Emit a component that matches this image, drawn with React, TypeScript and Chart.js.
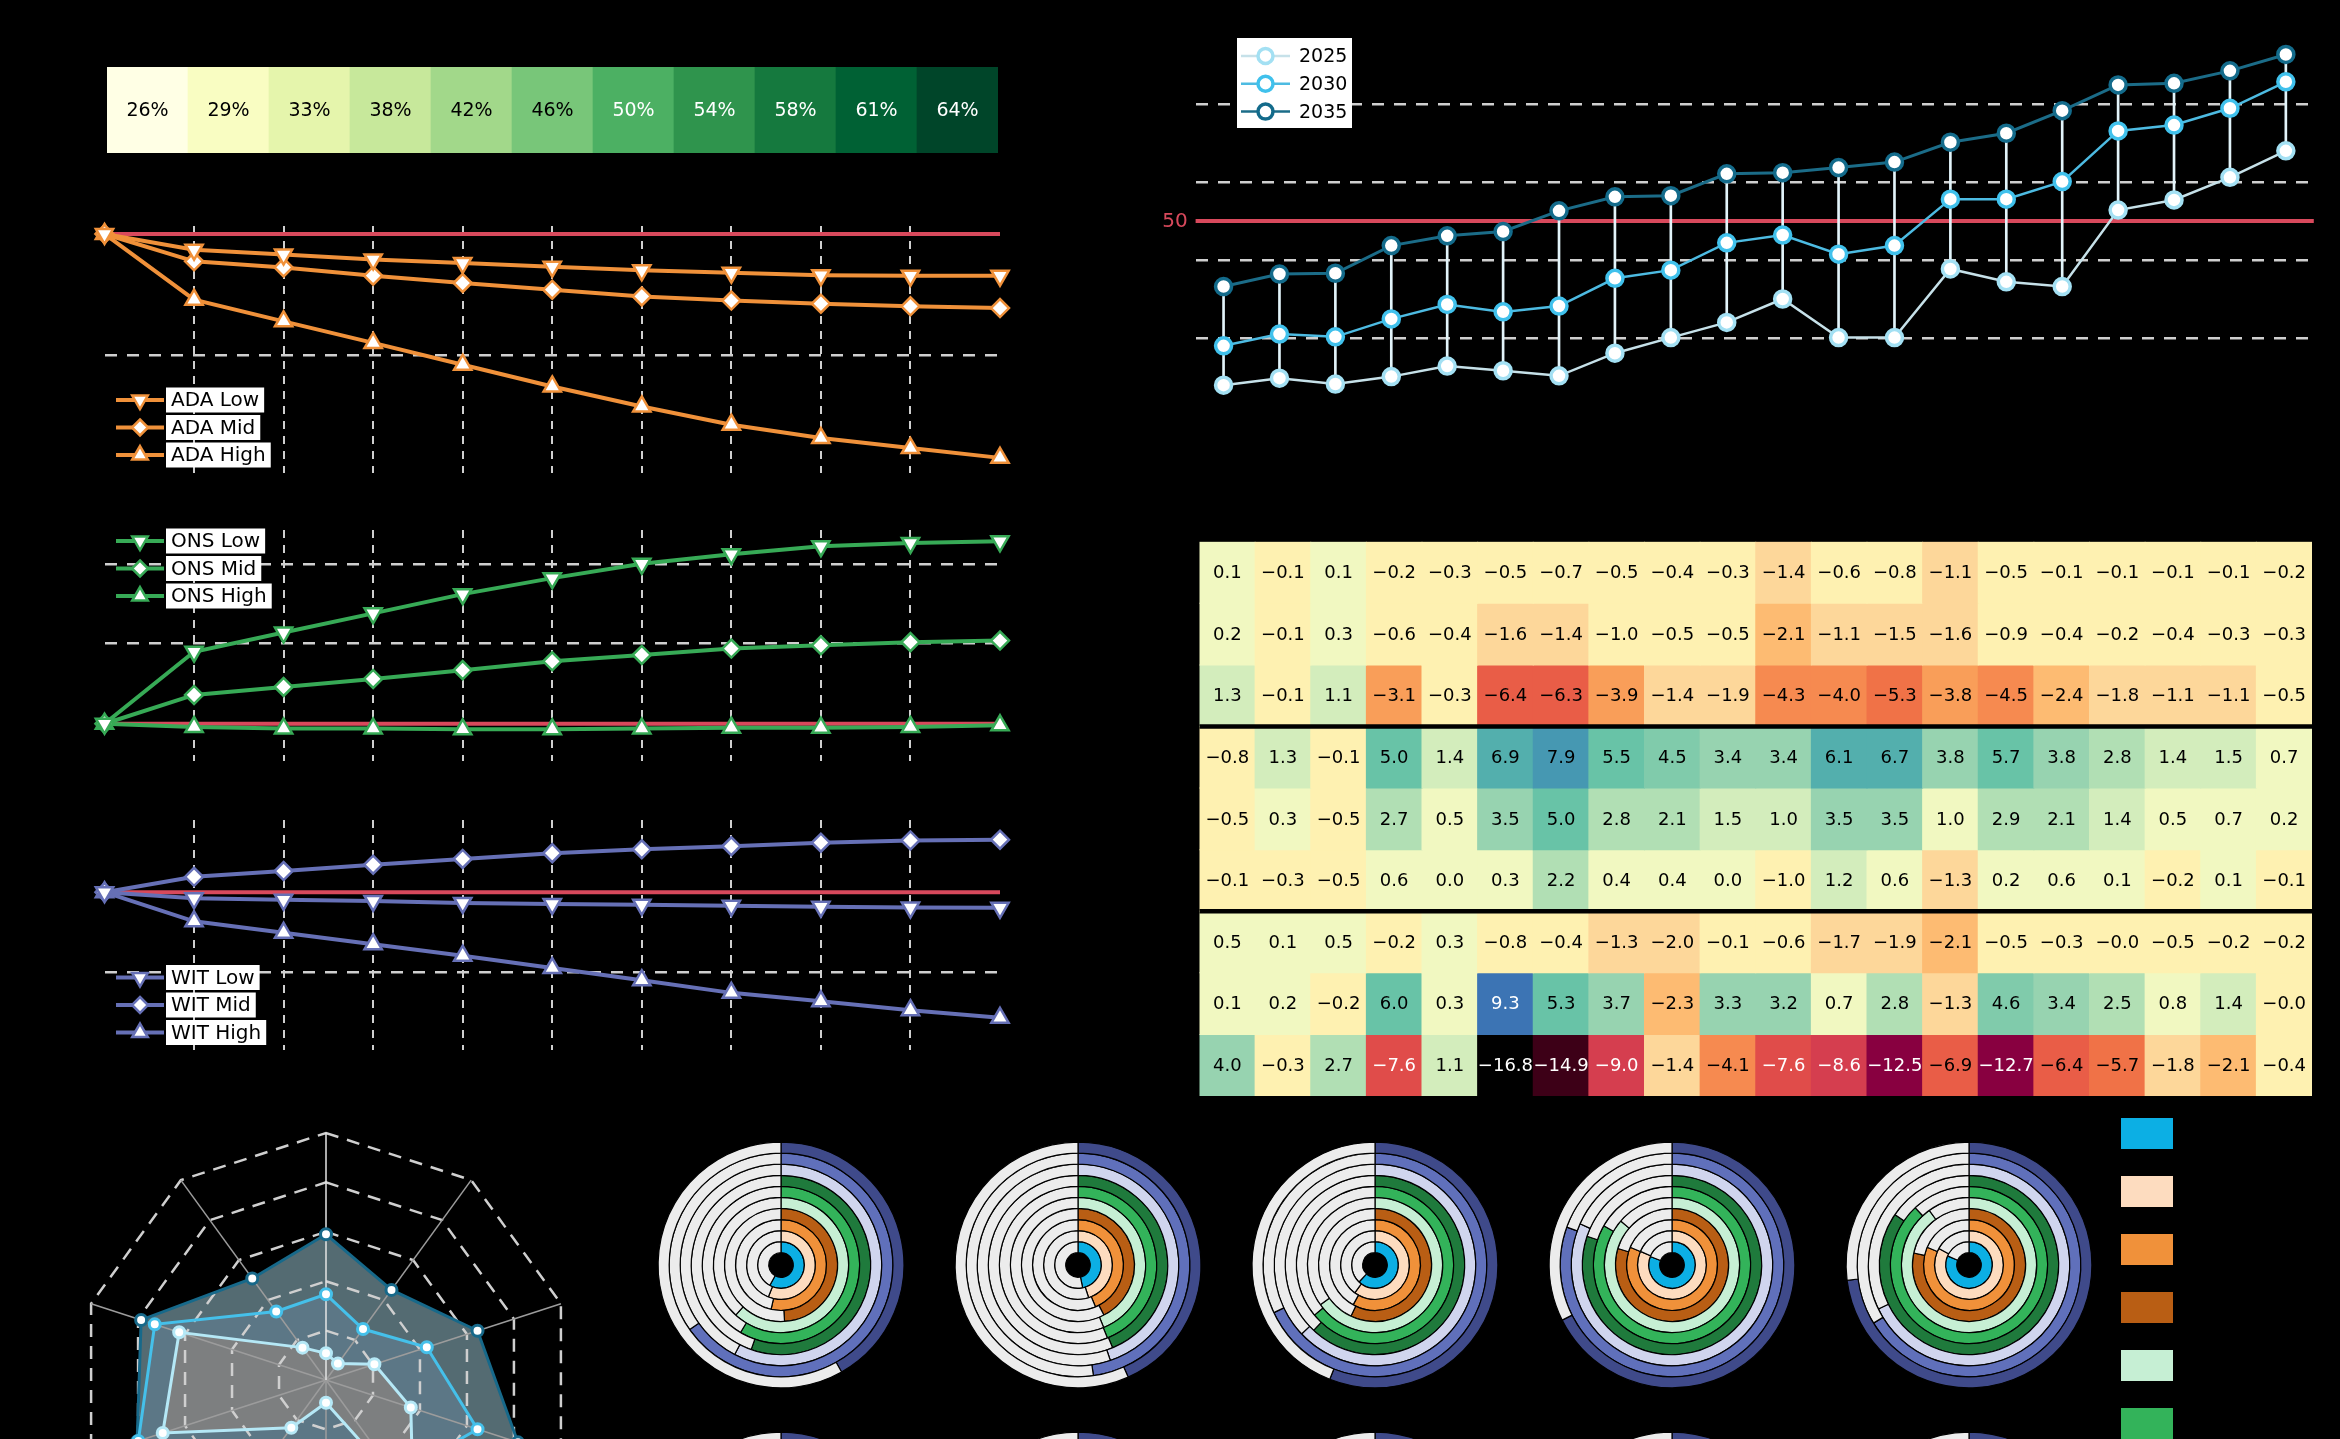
import React, { useEffect, useRef } from 'react';
import { Chart, registerables } from 'chart.js';

Chart.register(...registerables);

const FONT = "'DejaVu Sans', 'Liberation Sans', Arial, sans-serif";
Chart.defaults.font.family = FONT;

// ======================= DATA =======================
const SHARE_LABELS = ['26%', '29%', '33%', '38%', '42%', '46%', '50%', '54%', '58%', '61%', '64%'];
const SHARE_VALUES = [26, 29, 33, 38, 42, 46, 50, 54, 58, 61, 64];

const STEP_LABELS = ['0', '1', '2', '3', '4', '5', '6', '7', '8', '9', '10'];

const ADA_LOW = [0, -1.3, -1.7, -2.1, -2.4, -2.7, -3.0, -3.2, -3.4, -3.45, -3.45];
const ADA_MID = [0, -2.26, -2.76, -3.45, -4.05, -4.6, -5.16, -5.5, -5.76, -5.98, -6.12];
const ADA_HIGH = [0, -5.43, -7.22, -9.0, -10.8, -12.6, -14.25, -15.76, -16.86, -17.69, -18.5];

const ONS_LOW = [0, 4.5, 5.7, 6.9, 8.1, 9.1, 10.0, 10.6, 11.1, 11.3, 11.4];
const ONS_MID = [0, 1.8, 2.3, 2.8, 3.35, 3.9, 4.3, 4.7, 4.9, 5.1, 5.2];
const ONS_HIGH = [0, -0.2, -0.3, -0.3, -0.35, -0.35, -0.3, -0.25, -0.25, -0.2, -0.1];

const WIT_LOW = [0, -0.38, -0.48, -0.55, -0.67, -0.74, -0.79, -0.84, -0.91, -0.96, -0.98];
const WIT_MID = [0, 0.96, 1.32, 1.72, 2.08, 2.44, 2.68, 2.87, 3.09, 3.23, 3.28];
const WIT_HIGH = [0, -1.82, -2.54, -3.25, -3.97, -4.74, -5.5, -6.29, -6.82, -7.37, -7.85];

const REGIONS = ['R1', 'R2', 'R3', 'R4', 'R5', 'R6', 'R7', 'R8', 'R9', 'R10', 'R11', 'R12', 'R13', 'R14', 'R15', 'R16', 'R17', 'R18', 'R19', 'R20'];
const Y2025 = [7.9, 9.7, 8.2, 10.1, 12.8, 11.6, 10.3, 16.1, 20.1, 24.0, 30.0, 20.1, 20.1, 37.7, 34.4, 33.2, 52.8, 55.4, 61.2, 68.0];
const Y2030 = [18.0, 21.0, 20.3, 24.9, 28.6, 26.7, 28.2, 35.3, 37.4, 44.4, 46.4, 41.5, 43.7, 55.6, 55.6, 60.1, 73.1, 74.6, 78.9, 85.7];
const Y2035 = [33.2, 36.4, 36.6, 43.7, 46.2, 47.3, 52.6, 56.2, 56.5, 62.1, 62.4, 63.7, 65.1, 70.2, 72.5, 78.3, 84.9, 85.3, 88.5, 92.7];
const REF_VALUE = 50;
const TOP_GRID = [20, 40, 60, 80];

const HEAT_ROW_LABELS = ['ADA Low', 'ADA Mid', 'ADA High', 'ONS Low', 'ONS Mid', 'ONS High', 'WIT Low', 'WIT Mid', 'WIT High'];
const HEAT_R1 = [0.1, -0.1, 0.1, -0.2, -0.3, -0.5, -0.7, -0.5, -0.4, -0.3, -1.4, -0.6, -0.8, -1.1, -0.5, -0.1, -0.1, -0.1, -0.1, -0.2];
const HEAT_R2 = [0.2, -0.1, 0.3, -0.6, -0.4, -1.6, -1.4, -0.96, -0.5, -0.5, -2.1, -1.1, -1.5, -1.6, -0.9, -0.4, -0.2, -0.4, -0.3, -0.3];
const HEAT_R3 = [1.3, -0.1, 1.1, -3.1, -0.3, -6.4, -6.3, -3.9, -1.4, -1.9, -4.3, -4.04, -5.3, -3.8, -4.5, -2.4, -1.8, -1.1, -1.1, -0.5];
const HEAT_R4 = [-0.8, 1.3, -0.1, 5.04, 1.4, 6.9, 7.9, 5.5, 4.5, 3.4, 3.4, 6.1, 6.7, 3.8, 5.7, 3.8, 2.8, 1.4, 1.5, 0.7];
const HEAT_R5 = [-0.5, 0.3, -0.5, 2.7, 0.5, 3.5, 5.02, 2.8, 2.1, 1.5, 1.04, 3.5, 3.5, 0.96, 2.9, 2.1, 1.4, 0.5, 0.7, 0.2];
const HEAT_R6 = [-0.1, -0.3, -0.5, 0.6, 0.02, 0.3, 2.2, 0.4, 0.4, 0.02, -0.96, 1.2, 0.6, -1.3, 0.2, 0.6, 0.1, -0.2, 0.1, -0.1];
const HEAT_R7 = [0.5, 0.1, 0.5, -0.2, 0.3, -0.8, -0.4, -1.3, -1.96, -0.1, -0.6, -1.7, -1.9, -2.1, -0.5, -0.3, -0.02, -0.5, -0.2, -0.2];
const HEAT_R8 = [0.1, 0.2, -0.2, 5.97, 0.3, 9.3, 5.3, 3.7, -2.3, 3.3, 3.2, 0.7, 2.8, -1.3, 4.6, 3.4, 2.5, 0.8, 1.4, -0.02];
const HEAT_R9 = [3.97, -0.3, 2.7, -7.6, 1.1, -16.8, -14.9, -9.0, -1.4, -4.1, -7.6, -8.6, -12.5, -6.9, -12.7, -6.4, -5.7, -1.8, -2.1, -0.4];
const HEAT_ROWS = [HEAT_R1, HEAT_R2, HEAT_R3, HEAT_R4, HEAT_R5, HEAT_R6, HEAT_R7, HEAT_R8, HEAT_R9];
const HEAT_GROUP_BREAKS = [3, 6];

const RADAR_AXES = ['A1', 'A2', 'A3', 'A4', 'A5', 'A6', 'A7', 'A8', 'A9', 'A10'];
const RADAR_OUTER = [59, 45.1, 64.5, 81.7, 66, 58, 70, 80.4, 78.7, 50.8];
const RADAR_MIDDLE = [34.7, 25.5, 42.9, 64.5, 48, 35, 52, 79.9, 72.9, 34.3];
const RADAR_INNER = [10.8, 8.2, 20.6, 36.1, 60, 9.2, 23.9, 69.5, 62.5, 16.2];

// donut rings, listed inner -> outer
const DONUT_1 = [58, 56, 53.5, 49, 61.7, 58.6, 55.4, 57.6, 65.2, 41.8];
const DONUT_2 = [46.8, 45, 43.7, 42.4, 43.8, 43.9, 43.7, 44.8, 47.8, 43.3];
const DONUT_3 = [62, 60, 58, 57, 65, 64, 62, 63, 68, 56];
const DONUT_4 = [80.9, 81.5, 81.4, 79.7, 86.3, 83.3, 80.2, 81.7, 80.5, 67.6];
const DONUT_5 = [81.4, 83, 81.4, 78.4, 90, 88, 84.5, 67.8, 66.3, 73];
const DONUT_6 = [55, 52, 50, 47, 58, 55, 52, 54, 60, 45];
const DONUT_7 = [48, 46, 44, 43, 46, 45, 45, 46, 49, 44];
const DONUT_8 = [63, 61, 59, 57, 66, 64, 62, 63, 67, 57];
const DONUT_9 = [79, 80, 80, 78, 85, 82, 79, 80, 79, 66];
const DONUT_10 = [80, 82, 80, 77, 88, 86, 83, 68, 67, 71];
const DONUTS_ROW1 = [DONUT_1, DONUT_2, DONUT_3, DONUT_4, DONUT_5];
const DONUTS_ROW2 = [DONUT_6, DONUT_7, DONUT_8, DONUT_9, DONUT_10];

// ======================= STYLE =======================
const RED = '#d8495c';
const GRID = '#cfcfcf';
const ADA_COLOR = '#f0913a';
const ONS_COLOR = '#37aa56';
const WIT_COLOR = '#6670b6';
const YLGN = ['#ffffe5', '#f7fcb9', '#d9f0a3', '#addd8e', '#78c679', '#41ab5d', '#238443', '#006837', '#004529'];
const DONUT_COLORS = ['#0cafe4', '#fddcbf', '#f0913a', '#b95e14', '#c6efd4', '#33b35a', '#1f7a3c', '#d0d5ee', '#6070bb', '#3f4a8a'];
const DONUT_REST = '#ececec';
const HEAT_BINS: Record<number, string> = {
  [-17]: '#000000', [-16]: '#1c0009', [-15]: '#3d0017', [-14]: '#5f0027', [-13]: '#880040', [-12]: '#9e0142',
  [-11]: '#b0183f', [-10]: '#c42c48', [-9]: '#d53e4f', [-8]: '#e04c4a', [-7]: '#e95d47', [-6]: '#f07247',
  [-5]: '#f68a50', [-4]: '#f99e59', [-3]: '#fdbb72', [-2]: '#fdd79a', [-1]: '#fef1b1', 0: '#f1f8c1',
  1: '#d3edbc', 2: '#b1dfb4', 3: '#97d3b0', 4: '#80cbab', 5: '#68c3a7', 6: '#53afad', 7: '#4698b2',
  8: '#4186b4', 9: '#3c74b4',
};

function hexToRgb(h: string) {
  const n = parseInt(h.slice(1), 16);
  return [(n >> 16) & 255, (n >> 8) & 255, n & 255];
}
function interp(stops: string[], t: number) {
  const tt = Math.max(0, Math.min(1, t)) * (stops.length - 1);
  const i = Math.min(Math.floor(tt), stops.length - 2);
  const f = tt - i;
  const a = hexToRgb(stops[i]);
  const b = hexToRgb(stops[i + 1]);
  return `rgb(${a.map((v, k) => Math.round(v + (b[k] - v) * f)).join(',')})`;
}
function heatColor(v: number) {
  const k = Math.max(-17, Math.min(9, Math.floor(v)));
  return HEAT_BINS[k];
}
function lum(hex: string) {
  const [r, g, b] = hexToRgb(hex);
  return 0.299 * r + 0.587 * g + 0.114 * b;
}
function fmt(v: number) {
  return v.toFixed(1).replace('-', '\u2212');
}

function drawMarker(ctx: CanvasRenderingContext2D, kind: string, x: number, y: number, r: number, fill: string, stroke: string, lw: number) {
  ctx.save();
  ctx.beginPath();
  if (kind === 'circle') {
    ctx.arc(x, y, r, 0, Math.PI * 2);
  } else if (kind === 'diamond') {
    ctx.moveTo(x, y - r);
    ctx.lineTo(x + r, y);
    ctx.lineTo(x, y + r);
    ctx.lineTo(x - r, y);
    ctx.closePath();
  } else {
    const rot = kind === 'up' ? -Math.PI / 2 : Math.PI / 2;
    for (let k = 0; k < 3; k++) {
      const a = rot + (k * 2 * Math.PI) / 3;
      const px = x + r * Math.cos(a);
      const py = y + r * Math.sin(a);
      if (k === 0) ctx.moveTo(px, py);
      else ctx.lineTo(px, py);
    }
    ctx.closePath();
  }
  ctx.fillStyle = fill;
  ctx.fill();
  ctx.lineWidth = lw;
  ctx.strokeStyle = stroke;
  ctx.stroke();
  ctx.restore();
}

const BASE_OPTS = {
  animation: false,
  responsive: true,
  maintainAspectRatio: false,
  events: [],
};

// ======================= SHARE STRIP =======================
const shareLabelPlugin = {
  id: 'shareLabels',
  afterDatasetsDraw(chart: any) {
    const { ctx } = chart;
    const meta = chart.getDatasetMeta(0);
    ctx.save();
    ctx.font = `19px ${FONT}`;
    ctx.textAlign = 'center';
    ctx.textBaseline = 'middle';
    meta.data.forEach((bar: any, i: number) => {
      const t = i / (SHARE_VALUES.length - 1);
      ctx.fillStyle = t < 0.55 ? '#000' : '#fff';
      ctx.fillText(SHARE_LABELS[i], bar.x, (bar.y + bar.base) / 2 + 1);
    });
    ctx.restore();
  },
};
function shareConfig() {
  return {
    type: 'bar',
    data: {
      labels: SHARE_LABELS,
      datasets: [
        {
          data: SHARE_VALUES.map(() => [0, 1]),
          backgroundColor: SHARE_VALUES.map((_, i) => interp(YLGN, i / (SHARE_VALUES.length - 1))),
          borderWidth: 0,
          barPercentage: 1,
          categoryPercentage: 1,
        },
      ],
    },
    options: {
      ...BASE_OPTS,
      layout: { padding: { left: 17, right: 22, top: 17, bottom: 17 } },
      plugins: { legend: { display: false }, tooltip: { enabled: false } },
      scales: { x: { display: false }, y: { display: false, min: 0, max: 1 } },
    },
    plugins: [shareLabelPlugin],
  };
}

// ======================= LINE PANELS =======================
const panelPlugin = {
  id: 'panel',
  beforeDatasetsDraw(chart: any, _a: any, opts: any) {
    const { ctx, chartArea, scales } = chart;
    const y = scales.y.getPixelForValue(opts.refValue);
    ctx.save();
    ctx.strokeStyle = RED;
    ctx.lineWidth = 4;
    ctx.beginPath();
    ctx.moveTo(chartArea.left, y);
    ctx.lineTo(chartArea.right, y);
    ctx.stroke();
    ctx.restore();
  },
  afterDraw(chart: any, _a: any, opts: any) {
    const { ctx } = chart;
    chart.data.datasets.forEach((ds: any, i: number) => {
      const cy = opts.legendY + i * opts.legendStep;
      const x0 = opts.legendX;
      ctx.save();
      ctx.strokeStyle = ds.borderColor;
      ctx.lineWidth = 4;
      ctx.beginPath();
      ctx.moveTo(x0, cy);
      ctx.lineTo(x0 + 48, cy);
      ctx.stroke();
      drawMarker(ctx, ds.marker, x0 + 24, cy, ds.marker === 'diamond' ? 8 : 9, '#fff', ds.borderColor, 2.5);
      ctx.font = `20px ${FONT}`;
      const w = ctx.measureText(ds.label).width;
      const bx = x0 + 50;
      ctx.fillStyle = '#fff';
      ctx.fillRect(bx, cy - 12.5, w + 10, 25);
      ctx.fillStyle = '#000';
      ctx.textAlign = 'left';
      ctx.textBaseline = 'middle';
      ctx.fillText(ds.label, bx + 5, cy + 1);
      ctx.restore();
    });
  },
};

type Series = { label: string; data: number[]; marker: string };
type Panel = { name: string; top: number; height: number; padTop: number; padBottom: number; yMin: number; yMax: number; grid: number[]; color: string; legendY: number; series: Series[] };

const PANELS: Panel[] = [
  {
    name: 'ADA', top: 200, height: 300, padTop: 26, padBottom: 27, yMin: -19.75, yMax: 0.66, grid: [0, -10], color: ADA_COLOR, legendY: 200,
    series: [
      { label: 'ADA Low', data: ADA_LOW, marker: 'down' },
      { label: 'ADA Mid', data: ADA_MID, marker: 'diamond' },
      { label: 'ADA High', data: ADA_HIGH, marker: 'up' },
    ],
  },
  {
    name: 'ONS', top: 500, height: 290, padTop: 30, padBottom: 29, yMin: -2.33, yMax: 12.11, grid: [0, 5, 10], color: ONS_COLOR, legendY: 41,
    series: [
      { label: 'ONS Low', data: ONS_LOW, marker: 'down' },
      { label: 'ONS Mid', data: ONS_MID, marker: 'diamond' },
      { label: 'ONS High', data: ONS_HIGH, marker: 'up' },
    ],
  },
  {
    name: 'WIT', top: 790, height: 290, padTop: 30, padBottom: 30, yMin: -9.86, yMax: 4.51, grid: [0, -5], color: WIT_COLOR, legendY: 187.5,
    series: [
      { label: 'WIT Low', data: WIT_LOW, marker: 'down' },
      { label: 'WIT Mid', data: WIT_MID, marker: 'diamond' },
      { label: 'WIT High', data: WIT_HIGH, marker: 'up' },
    ],
  },
];

function panelConfig(p: Panel) {
  const last = STEP_LABELS.length - 1;
  return {
    type: 'line',
    data: {
      labels: STEP_LABELS,
      datasets: p.series.map((s) => ({
        label: s.label,
        marker: s.marker,
        data: s.data,
        borderColor: p.color,
        borderWidth: 4,
        tension: 0,
        pointStyle: s.marker === 'diamond' ? 'rectRot' : 'triangle',
        pointRotation: s.marker === 'down' ? 180 : 0,
        pointRadius: s.marker === 'diamond' ? 9 : 10,
        pointBorderWidth: 2.5,
        pointBackgroundColor: '#fff',
        pointBorderColor: p.color,
        clip: false,
      })),
    },
    options: {
      ...BASE_OPTS,
      layout: { padding: { left: 104.5, right: 40, top: p.padTop, bottom: p.padBottom } },
      plugins: {
        legend: { display: false },
        tooltip: { enabled: false },
        panel: { refValue: 0, legendX: 116, legendY: p.legendY, legendStep: 27.5 },
      },
      scales: {
        x: {
          type: 'category',
          offset: false,
          ticks: { display: false },
          border: { display: false, dash: [8, 7] },
          grid: {
            drawTicks: false,
            lineWidth: 2,
            color: (c: any) => (c.index === 0 || c.index === last ? 'rgba(0,0,0,0)' : GRID),
          },
        },
        y: {
          min: p.yMin,
          max: p.yMax,
          ticks: { display: false },
          afterBuildTicks: (s: any) => {
            s.ticks = p.grid.map((v) => ({ value: v }));
          },
          border: { display: false, dash: [12, 10] },
          grid: { drawTicks: false, lineWidth: 2.5, color: GRID },
        },
      },
    },
    plugins: [panelPlugin],
  };
}

// ======================= TOP RIGHT (years) =======================
const YEAR_SERIES = [
  { label: '2025', data: Y2025, line: '#c6e1e9', edge: '#a3e0f3', width: 2.5 },
  { label: '2030', data: Y2030, line: '#4dbbe2', edge: '#40c1ec', width: 2.5 },
  { label: '2035', data: Y2035, line: '#1b6c88', edge: '#136b8b', width: 3 },
];

const yearsPlugin = {
  id: 'years',
  beforeDatasetsDraw(chart: any) {
    const { ctx, chartArea, scales } = chart;
    const y = scales.y.getPixelForValue(REF_VALUE);
    ctx.save();
    ctx.strokeStyle = RED;
    ctx.lineWidth = 4;
    ctx.beginPath();
    ctx.moveTo(chartArea.left, y);
    ctx.lineTo(chartArea.right, y);
    ctx.stroke();
    ctx.fillStyle = RED;
    ctx.font = `20px ${FONT}`;
    ctx.textAlign = 'right';
    ctx.textBaseline = 'middle';
    ctx.fillText(String(REF_VALUE), chartArea.left - 8, y + 1);
    ctx.restore();
  },
  afterDraw(chart: any) {
    const { ctx } = chart;
    ctx.save();
    ctx.fillStyle = '#fff';
    ctx.fillRect(137, 38, 115, 90);
    YEAR_SERIES.forEach((s, i) => {
      const cy = 56 + i * 27.8;
      ctx.strokeStyle = s.line;
      ctx.lineWidth = 2.5;
      ctx.beginPath();
      ctx.moveTo(141, cy);
      ctx.lineTo(190, cy);
      ctx.stroke();
      drawMarker(ctx, 'circle', 165.5, cy, 7.5, '#fff', s.edge, 3.5);
      ctx.fillStyle = '#000';
      ctx.font = `19px ${FONT}`;
      ctx.textAlign = 'left';
      ctx.textBaseline = 'middle';
      ctx.fillText(s.label, 199, cy + 1);
    });
    ctx.restore();
  },
};

function yearsConfig() {
  return {
    type: 'bar',
    data: {
      labels: REGIONS,
      datasets: [
        ...YEAR_SERIES.map((s, i) => ({
          type: 'line',
          label: s.label,
          data: s.data,
          borderColor: s.line,
          borderWidth: s.width,
          tension: 0,
          pointRadius: 8,
          pointBorderWidth: 3.5,
          pointBackgroundColor: '#fff',
          pointBorderColor: s.edge,
          order: 3 - i,
          clip: false,
        })),
        {
          type: 'bar',
          label: 'range',
          data: REGIONS.map((_, i) => [
            Math.min(Y2025[i], Y2030[i], Y2035[i]),
            Math.max(Y2025[i], Y2030[i], Y2035[i]),
          ]),
          backgroundColor: '#e2f4fa',
          barThickness: 2,
          borderWidth: 0,
          order: 10,
        },
      ],
    },
    options: {
      ...BASE_OPTS,
      layout: { padding: { left: 95.6, right: 26.2, top: 26, bottom: 34 } },
      plugins: { legend: { display: false }, tooltip: { enabled: false } },
      scales: {
        x: { display: false },
        y: {
          min: 0,
          max: 100,
          ticks: { display: false },
          afterBuildTicks: (s: any) => {
            s.ticks = TOP_GRID.map((v) => ({ value: v }));
          },
          border: { display: false, dash: [12, 10] },
          grid: { drawTicks: false, lineWidth: 2.5, color: GRID },
        },
      },
    },
    plugins: [yearsPlugin],
  };
}

// ======================= HEATMAP =======================
const heatPlugin = {
  id: 'heatText',
  afterDatasetsDraw(chart: any) {
    const { ctx, chartArea, scales } = chart;
    ctx.save();
    ctx.font = `18px ${FONT}`;
    ctx.textAlign = 'center';
    ctx.textBaseline = 'middle';
    HEAT_ROWS.forEach((row, r) => {
      const meta = chart.getDatasetMeta(r);
      meta.data.forEach((bar: any, c: number) => {
        const v = row[c];
        ctx.fillStyle = lum(heatColor(v)) < 125 ? '#fff' : '#000';
        ctx.fillText(fmt(v), bar.x, (bar.y + bar.base) / 2 + 1);
      });
    });
    ctx.strokeStyle = '#000';
    ctx.lineWidth = 4.5;
    HEAT_GROUP_BREAKS.forEach((b) => {
      const y = scales.y.getPixelForValue(b);
      ctx.beginPath();
      ctx.moveTo(chartArea.left, y);
      ctx.lineTo(chartArea.right, y);
      ctx.stroke();
    });
    ctx.restore();
  },
};

function heatConfig() {
  return {
    type: 'bar',
    data: {
      labels: REGIONS,
      datasets: HEAT_ROWS.map((row, r) => ({
        label: HEAT_ROW_LABELS[r],
        data: row.map(() => [r, r + 1]),
        backgroundColor: row.map((v) => heatColor(v)),
        borderWidth: 0,
        barPercentage: 1,
        categoryPercentage: 1,
        inflateAmount: 0.5,
      })),
    },
    options: {
      ...BASE_OPTS,
      layout: { padding: { left: 9.5, right: 18, top: 11.7, bottom: 14 } },
      plugins: { legend: { display: false }, tooltip: { enabled: false } },
      scales: {
        x: { display: false, stacked: true },
        y: { display: false, min: 0, max: 9, reverse: true },
      },
    },
    plugins: [heatPlugin],
  };
}

// ======================= RADAR =======================
const RADAR_SERIES = [
  { label: 'inner', data: RADAR_INNER, edge: '#b5e8f6', fill: 'rgba(158,136,122,0.5)' },
  { label: 'middle', data: RADAR_MIDDLE, edge: '#45c0ea', fill: 'rgba(111,150,181,0.3)' },
  { label: 'outer', data: RADAR_OUTER, edge: '#17698a', fill: 'rgba(140,178,190,0.6)' },
];

function radarConfig(fillLayer: boolean) {
  return {
    type: 'radar',
    data: {
      labels: RADAR_AXES,
      datasets: RADAR_SERIES.map((s) =>
        fillLayer
          ? { label: s.label, data: s.data, fill: true, backgroundColor: s.fill, borderWidth: 0, pointRadius: 0 }
          : {
              label: s.label,
              data: s.data,
              fill: false,
              borderColor: s.edge,
              borderWidth: 3,
              pointRadius: 5.5,
              pointBorderWidth: 3,
              pointBackgroundColor: '#fff',
              pointBorderColor: s.edge,
            }
      ),
    },
    options: {
      ...BASE_OPTS,
      layout: { padding: 33 },
      plugins: { legend: { display: false }, tooltip: { enabled: false } },
      scales: {
        r: {
          min: 0,
          max: 100,
          ticks: { display: false, stepSize: 20 },
          pointLabels: { display: false },
          grid: { display: !fillLayer, circular: false, color: GRID, lineWidth: 2.5 },
          border: { dash: [13, 9] },
          angleLines: {
            display: !fillLayer,
            lineWidth: 1.5,
            color: (c: any) => (c.index === 0 ? '#e4e4e4' : '#9c9c9c'),
          },
        },
      },
    },
  };
}

// ======================= DONUTS =======================
function donutConfig(values: number[]) {
  const rings = values.map((v, i) => ({ v, color: DONUT_COLORS[i] })).reverse(); // outer first
  return {
    type: 'doughnut',
    data: {
      labels: ['share', 'rest'],
      datasets: rings.map((r) => ({
        data: [r.v, 100 - r.v],
        backgroundColor: [r.color, DONUT_REST],
        borderColor: '#000',
        borderWidth: 1.2,
      })),
    },
    options: {
      ...BASE_OPTS,
      cutout: '10%',
      layout: { padding: 6.5 },
      plugins: { legend: { display: false }, tooltip: { enabled: false } },
    },
  };
}

// ======================= COMPONENTS =======================
function ChartBox({ left, top, width, height, make }: { left: number; top: number; width: number; height: number; make: () => any }) {
  const ref = useRef<HTMLCanvasElement>(null);
  useEffect(() => {
    if (!ref.current) return;
    const chart = new Chart(ref.current, make());
    return () => chart.destroy();
  }, []);
  return (
    <div style={{ position: 'absolute', left, top, width, height }}>
      <canvas ref={ref} />
    </div>
  );
}

const DONUT_X = [780.6, 1077.7, 1374.8, 1671.9, 1969];
const DONUT_Y = [1265, 1555];

export default function App() {
  useEffect(() => {
    document.body.style.margin = '0';
    document.body.style.background = '#000';
  }, []);
  return (
    <div style={{ position: 'fixed', left: 0, top: 0, width: 2340, height: 1439, overflow: 'hidden', background: '#000' }}>
      <ChartBox left={90} top={50} width={930} height={120} make={shareConfig} />
      {PANELS.map((p) => (
        <ChartBox key={p.name} left={0} top={p.top} width={1040} height={p.height} make={() => panelConfig(p)} />
      ))}
      <ChartBox left={1100} top={0} width={1240} height={450} make={yearsConfig} />
      <ChartBox left={1190} top={530} width={1140} height={580} make={heatConfig} />
      <ChartBox left={46} top={1100} width={560} height={560} make={() => radarConfig(true)} />
      <ChartBox left={46} top={1100} width={560} height={560} make={() => radarConfig(false)} />
      {DONUTS_ROW1.map((d, i) => (
        <ChartBox key={'a' + i} left={DONUT_X[i] - 130} top={DONUT_Y[0] - 130} width={260} height={260} make={() => donutConfig(d)} />
      ))}
      {DONUTS_ROW2.map((d, i) => (
        <ChartBox key={'b' + i} left={DONUT_X[i] - 130} top={DONUT_Y[1] - 130} width={260} height={260} make={() => donutConfig(d)} />
      ))}
      {DONUT_COLORS.map((c, i) => (
        <div key={c} style={{ position: 'absolute', left: 2121, top: 1118 + i * 58, width: 52, height: 31, background: c }} />
      ))}
    </div>
  );
}
